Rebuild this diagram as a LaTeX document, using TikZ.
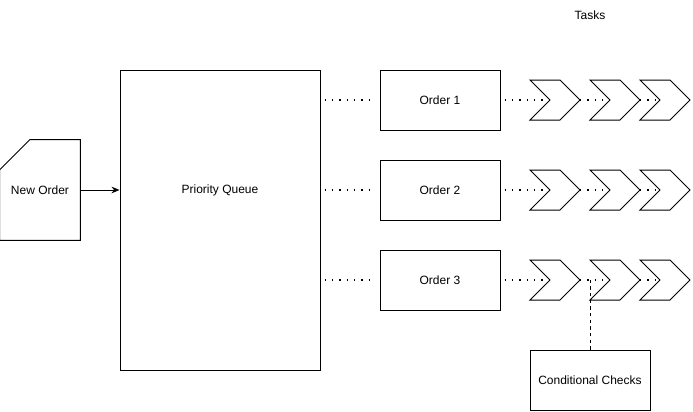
\documentclass[tikz,border=0pt]{standalone}
\usepackage{fontspec}
\setmainfont{Liberation Sans}
\usetikzlibrary{arrows.meta}
\begin{document}
\begin{tikzpicture}[x=0.75pt,y=-0.75pt,
  every node/.style={font=\fontsize{9pt}{11pt}\selectfont},
  box/.style={draw,line width=0.75pt,inner sep=0pt,align=center},
  dotline/.style={line width=1.1pt,dash pattern=on 1.1pt off 4.4pt},
  dashline/.style={line width=0.75pt,dash pattern=on 2.5pt off 2.5pt},
  chev/.style={draw,line width=0.75pt,fill=white,line join=miter}]
\useasboundingbox (0,0) rectangle (693,411);
% Tasks label
\node (tasks) at (590,15) {Tasks};
% New Order card
\node[inner sep=0pt,minimum width=60pt,minimum height=75pt] (no) at (40,190) {New Order};
\draw[line width=0.75pt] (no.south west) -- (no.south east) -- (no.north east)
  -- ([xshift=22.5pt]no.north west) -- ([yshift=-22.5pt]no.north west) -- cycle;
% Priority queue
\node[box,minimum width=150pt,minimum height=225pt] (pq) at (220,220) {};
\node (pqlabel) at (220,190) {Priority Queue};
\draw[line width=0.75pt,-{Stealth[length=6pt,width=5pt]}] (no.east) -- (pq.west |- no.east);
% Orders
\node[box,minimum width=90pt,minimum height=45pt] (o1) at (440,100) {Order 1};
\node[box,minimum width=90pt,minimum height=45pt] (o2) at (440,190) {Order 2};
\node[box,minimum width=90pt,minimum height=45pt] (o3) at (440,280) {Order 3};
% Conditional checks
\node[box,minimum width=90pt,minimum height=45pt] (cc) at (590,380) {Conditional Checks};
% Chevrons
\foreach \r/\y in {1/100,2/190,3/280}{
  \foreach \c/\x in {1/530,2/590,3/640}{
    \draw[chev] (\x,\y-20) -- (\x+30,\y-20) -- (\x+50,\y) -- (\x+30,\y+20) -- (\x,\y+20) -- (\x+20,\y) -- cycle;
    \coordinate (t\r-\c-in) at (\x+20,\y);
    \coordinate (t\r-\c-out) at (\x+50,\y);
  }
  \draw[dotline] (pq.east |- o\r.west) ++(4,0) -- ([xshift=-3pt]o\r.west);
  \draw[dotline] ([xshift=3pt]o\r.east) -- (t\r-1-in);
  \draw[dotline] (t\r-1-out) -- (t\r-2-in);
  \draw[dotline] (t\r-2-out) -- (t\r-3-in);
}
\coordinate (ccend) at (590,280);
\draw[dashline] (cc.north) -- (ccend);
\end{tikzpicture}
\end{document}
